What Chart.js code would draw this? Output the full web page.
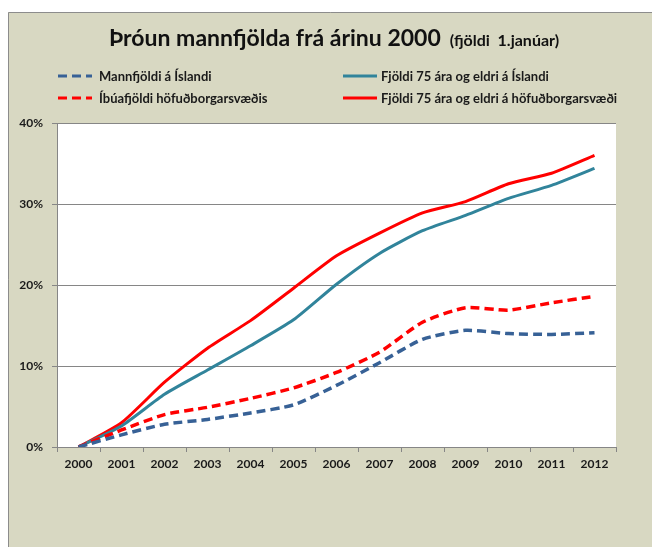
<!DOCTYPE html>
<html>
<head>
<meta charset="utf-8">
<script src="https://cdn.jsdelivr.net/npm/chart.js@4/dist/chart.umd.min.js"></script>
<style>
  body { margin: 0; background: #fff; }
  #wrap { width: 652px; height: 547px; }
</style>
</head>
<body>
<div id="wrap"><canvas id="graf" width="652" height="547"></canvas></div>
<script>
// gögn lesin af myndinni (% aukning frá 2000)
var ar = ['2000','2001','2002','2003','2004','2005','2006','2007','2008','2009','2010','2011','2012'];
var mannfjoldi = [0, 1.5, 2.8, 3.4, 4.2, 5.2, 7.6, 10.4, 13.3, 14.4, 14.0, 13.9, 14.1];
var ibuafjoldi = [0, 2.1, 4.0, 4.9, 6.0, 7.3, 9.2, 11.7, 15.4, 17.2, 16.9, 17.8, 18.6];
var eldriIsland = [0, 2.6, 6.5, 9.5, 12.5, 15.7, 20.1, 23.9, 26.7, 28.6, 30.7, 32.3, 34.4];
var eldriHbs = [0, 3.0, 8.0, 12.2, 15.6, 19.6, 23.6, 26.4, 28.9, 30.3, 32.5, 33.8, 36.0];
var yTicks = [0, 10, 20, 30, 40];

var titill = 'Þróun mannfjölda frá árinu 2000';
var undirtitill = '(fjöldi  1.janúar)';
var letur = 'Lato, "Open Sans", sans-serif';

var bakgrunnur = {
    id: 'bakgrunnur',
    beforeDraw: function (chart) {
        var c = chart.ctx, a = chart.chartArea;
        c.save();
        c.fillStyle = '#ffffff';
        c.fillRect(0, 0, chart.width, chart.height);
        c.fillStyle = '#d8d8c2';
        c.fillRect(8, 12, chart.width - 8, chart.height - 12);
        c.strokeStyle = '#8c8c8c';
        c.lineWidth = 1;
        c.beginPath();
        c.moveTo(8.5, chart.height);
        c.lineTo(8.5, 12.5);
        c.lineTo(chart.width, 12.5);
        c.stroke();
        c.fillStyle = '#ffffff';
        c.fillRect(a.left, a.top, a.right - a.left, a.bottom - a.top);
        c.restore();
    },
    afterDraw: function (chart) {
        var c = chart.ctx;
        c.save();
        // titill
        c.fillStyle = '#111111';
        c.textBaseline = 'alphabetic';
        c.textAlign = 'left';
        c.font = 'bold 23px ' + letur;
        c.fillText(titill, 109, 46);
        var w = c.measureText(titill).width;
        c.font = 'bold 16px ' + letur;
        c.fillText(undirtitill, 109 + w + 9, 46);

        // skýringar
        var stadir = [[58, 76], [58, 98], [343, 76], [343, 98]];
        c.font = 'bold 13px ' + letur;
        chart.data.datasets.forEach(function (ds, i) {
            var p = stadir[i];
            c.strokeStyle = ds.borderColor;
            c.lineWidth = 3;
            c.setLineDash(ds.borderDash || []);
            c.beginPath();
            c.moveTo(p[0], p[1]);
            c.lineTo(p[0] + 34, p[1]);
            c.stroke();
            c.setLineDash([]);
            c.fillStyle = '#1a1a1a';
            c.textBaseline = 'middle';
            c.fillText(ds.label, p[0] + (ds.borderDash ? 41 : 38), p[1] + 1);
        });
        c.restore();
    }
};

var ctx = document.getElementById('graf').getContext('2d');
var myChart = new Chart(ctx, {
    type: 'line',
    data: {
        labels: ar,
        datasets: [
            {
                label: 'Mannfjöldi á Íslandi',
                data: mannfjoldi,
                borderColor: '#376196',
                borderDash: [9, 5],
                borderWidth: 3.5
            },
            {
                label: 'Íbúafjöldi höfuðborgarsvæðis',
                data: ibuafjoldi,
                borderColor: '#ff0000',
                borderDash: [9, 5],
                borderWidth: 3.5
            },
            {
                label: 'Fjöldi 75 ára og eldri á Íslandi',
                data: eldriIsland,
                borderColor: '#31849b',
                borderWidth: 3
            },
            {
                label: 'Fjöldi 75 ára og eldri á höfuðborgarsvæði',
                data: eldriHbs,
                borderColor: '#ff0000',
                borderWidth: 3
            }
        ]
    },
    options: {
        responsive: false,
        animation: false,
        layout: { padding: { left: 0, top: 123, right: 36, bottom: 70 } },
        elements: {
            point: { radius: 0 },
            line: { tension: 0.2, fill: false, borderCapStyle: 'butt' }
        },
        plugins: {
            legend: { display: false },
            title: { display: false },
            tooltip: { enabled: false }
        },
        scales: {
            x: {
                offset: true,
                grid: { offset: true, drawOnChartArea: false, tickLength: 5, color: '#868686' },
                border: { color: '#868686' },
                ticks: {
                    maxRotation: 0,
                    autoSkip: false,
                    padding: 5,
                    color: '#1a1a1a',
                    font: { family: letur, size: 12, weight: 'bold' }
                },
                afterFit: function (s) { s.height = 30; }
            },
            y: {
                min: 0,
                max: 40,
                afterBuildTicks: function (s) { s.ticks = yTicks.map(function (v) { return { value: v }; }); },
                grid: { color: '#868686', tickLength: 5 },
                border: { color: '#868686' },
                ticks: {
                    padding: 9,
                    color: '#1a1a1a',
                    font: { family: letur, size: 12, weight: 'bold' },
                    callback: function (v) { return v + '%'; }
                },
                afterFit: function (s) { s.width = 57; }
            }
        }
    },
    plugins: [bakgrunnur]
});
</script>
</body>
</html>
